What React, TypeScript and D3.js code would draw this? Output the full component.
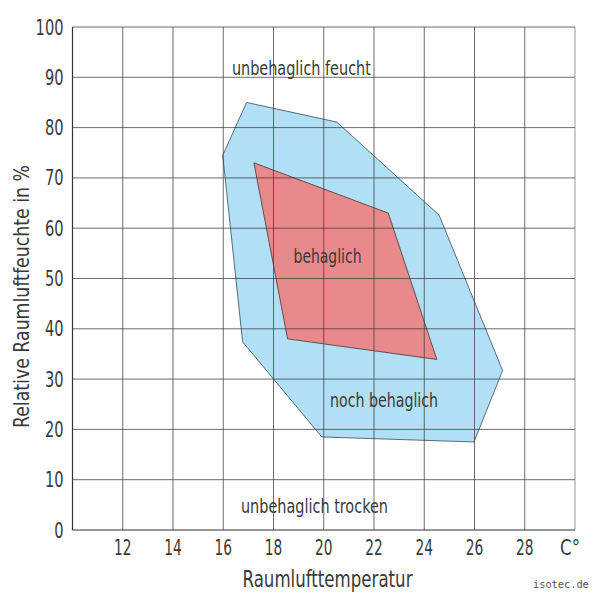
import React from "react";
import * as d3 from "d3";

const xTicks = [12, 14, 16, 18, 20, 22, 24, 26, 28];
const yTicks = [0, 10, 20, 30, 40, 50, 60, 70, 80, 90, 100];
const xGrid = [10, 12, 14, 16, 18, 20, 22, 24, 26, 28, 30];

// "noch behaglich" zone: [temperature °C, relative humidity %]
const nochBehaglich: [number, number][] = [
  [15.98, 74.5],
  [16.93, 85.0],
  [20.52, 81.1],
  [24.59, 62.6],
  [27.12, 31.7],
  [25.98, 17.5],
  [19.92, 18.5],
  [16.77, 37.4],
];

// "behaglich" zone
const behaglich: [number, number][] = [
  [17.22, 73.0],
  [22.57, 63.0],
  [24.5, 33.9],
  [18.56, 38.0],
];

const zoneLabels = [
  { text: "unbehaglich feucht", t: 19.11, rh: 90.5, w: 139 },
  { text: "behaglich", t: 20.15, rh: 53.0, w: 68 },
  { text: "noch behaglich", t: 22.4, rh: 24.5, w: 108 },
  { text: "unbehaglich trocken", t: 19.63, rh: 3.3, w: 147 },
];

const FONT = "'DejaVu Sans', sans-serif";
const TEXT = "#3a3a3a";

export default function App() {
  const x = d3.scaleLinear().domain([10, 30]).range([72.5, 575]);
  const y = d3.scaleLinear().domain([0, 100]).range([530, 27]);
  const line = d3
    .line<[number, number]>()
    .x((d) => x(d[0]))
    .y((d) => y(d[1]))
    .curve(d3.curveLinearClosed);

  return (
    <svg
      width={600}
      height={600}
      style={{ position: "absolute", left: 0, top: 0, background: "#fff" }}
      fontFamily={FONT}
      fontStretch="condensed"
    >
      <path d={line(nochBehaglich) || ""} fill="#b1dff5" stroke="#3b4a55" strokeWidth={0.8} />
      <path d={line(behaglich) || ""} fill="#e8898b" stroke="#4a3535" strokeWidth={0.8} />
      {xGrid.map((v) => (
        <line
          key={"gx" + v}
          x1={x(v)}
          x2={x(v)}
          y1={y(0)}
          y2={y(100)}
          stroke={v === 10 ? "#333" : v === 30 ? "#999" : "rgba(60,60,60,0.75)"}
          strokeWidth={v === 10 ? 1.2 : 1}
        />
      ))}
      {yTicks.map((v) => (
        <line
          key={"gy" + v}
          x1={x(10)}
          x2={x(30)}
          y1={y(v)}
          y2={y(v)}
          stroke={v === 0 ? "#333" : "rgba(60,60,60,0.75)"}
          strokeWidth={v === 0 ? 1.2 : 1}
        />
      ))}
      {yTicks.map((v) => (
        <text
          key={"ty" + v}
          x={63.5}
          y={y(v) + 7.5}
          textAnchor="end"
          fontSize={22}
          fill={TEXT}
          textLength={String(v).length * 9.3}
          lengthAdjust="spacingAndGlyphs"
        >
          {v}
        </text>
      ))}
      {xTicks.map((v) => (
        <text
          key={"tx" + v}
          x={x(v) - 8.7}
          y={555}
          fontSize={22}
          fill={TEXT}
          textLength={17.5}
          lengthAdjust="spacingAndGlyphs"
        >
          {v}
        </text>
      ))}
      <text x={560} y={555} fontSize={22} fill={TEXT} textLength={20} lengthAdjust="spacingAndGlyphs">
        C°
      </text>
      {zoneLabels.map((l) => (
        <text
          key={l.text}
          x={x(l.t) - l.w / 2}
          y={y(l.rh)}
          fontSize={20}
          fill={TEXT}
          textLength={l.w}
          lengthAdjust="spacingAndGlyphs"
        >
          {l.text}
        </text>
      ))}
      <text x={242.5} y={587} fontSize={23} fill={TEXT} textLength={170} lengthAdjust="spacingAndGlyphs">
        Raumlufttemperatur
      </text>
      <text
        transform="translate(29,428) rotate(-90)"
        fontSize={22}
        fill={TEXT}
        textLength={263}
        lengthAdjust="spacingAndGlyphs"
      >
        Relative Raumluftfeuchte in %
      </text>
      <text x={533} y={588} fontSize={10.3} fill="#555" fontFamily="'DejaVu Sans Mono', monospace" fontStretch="normal">
        isotec.de
      </text>
    </svg>
  );
}
